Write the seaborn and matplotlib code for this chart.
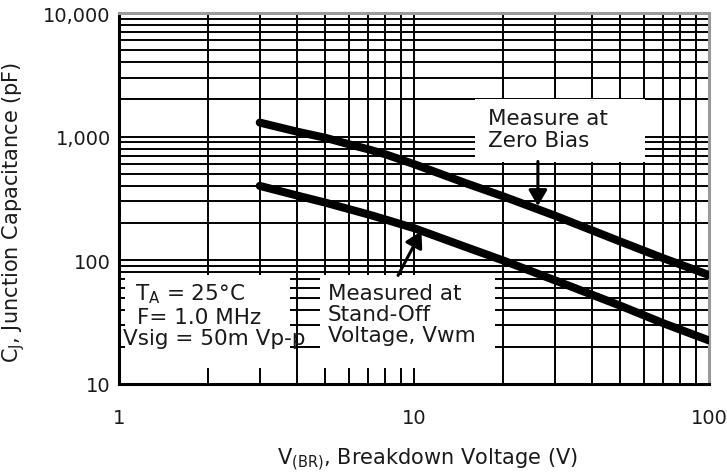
import numpy as np
import pandas as pd
import matplotlib
matplotlib.use('Agg')
import matplotlib.pyplot as plt
import seaborn as sns
from matplotlib.patches import Rectangle

# Data (log-log)
voltage = [3, 4, 5, 6, 7, 8, 10, 15, 20, 30, 50, 70, 100]
cap_zero_bias = [1300, 1100, 980, 870, 790, 720, 600, 420, 330, 230, 142, 104, 76]
cap_standoff = [400, 335, 293, 260, 235, 214, 182, 128, 100, 69, 43, 31, 22.5]

x_ticks = [1, 10, 100]
x_tick_labels = ['1', '10', '100']
y_ticks = [10, 100, 1000, 10000]
y_tick_labels = ['10', '100', '1,000', '10,000']

df = pd.DataFrame({
    'voltage': voltage * 2,
    'cap': cap_zero_bias + cap_standoff,
    'curve': ['zero'] * len(voltage) + ['standoff'] * len(voltage),
})

sns.set_style('white')
plt.rcParams['font.family'] = ['DejaVu Sans']

fig = plt.figure(figsize=(7.27, 4.77), dpi=100)
ax = fig.add_axes([119 / 727, 1 - 385 / 477, 590 / 727, 371 / 477])

sns.lineplot(data=df, x='voltage', y='cap', units='curve', estimator=None,
             color='black', linewidth=5.8, ax=ax, zorder=4, legend=False)

ax.set_xscale('log')
ax.set_yscale('log')
ax.set_xlim(1, 100)
ax.set_ylim(10, 10000)

# full log grid
ax.set_xticks(x_ticks)
ax.set_xticklabels(x_tick_labels)
ax.set_yticks(y_ticks)
ax.set_yticklabels(y_tick_labels)
ax.xaxis.set_minor_locator(matplotlib.ticker.LogLocator(base=10, subs=np.arange(2, 10)))
ax.yaxis.set_minor_locator(matplotlib.ticker.LogLocator(base=10, subs=np.arange(2, 10)))
ax.xaxis.set_minor_formatter(matplotlib.ticker.NullFormatter())
ax.yaxis.set_minor_formatter(matplotlib.ticker.NullFormatter())
ax.set_axisbelow(True)
ax.grid(True, which='both', color='black', linewidth=1.4)
ax.tick_params(which='both', length=0)
ax.tick_params(axis='x', pad=17, labelsize=14, colors='#1a1a1a')
ax.tick_params(axis='y', pad=6, labelsize=14, colors='#1a1a1a')

for side in ['left', 'bottom']:
    ax.spines[side].set_color('black')
    ax.spines[side].set_linewidth(2.2)
for side in ['top', 'right']:
    ax.spines[side].set_color('#9a9a9a')
    ax.spines[side].set_linewidth(2.2)

# white masks behind the annotation texts
for (x0, x1, y0, y1) in [(16.1, 60.7, 629, 2023), (4.8, 18.8, 13.5, 75.7), (1.048, 3.8, 13.5, 75.7)]:
    ax.add_patch(Rectangle((x0, y0), x1 - x0, y1 - y0, facecolor='white',
                           edgecolor='none', zorder=2.5))

txt_kw = dict(fontsize=15.5, color='#1a1a1a', zorder=5)
ax.text(17.8, 1150, 'Measure at\nZero Bias', ha='left', va='center', linespacing=1.1, **txt_kw)
ax.text(5.11, 36.7, 'Measured at\nStand-Off\nVoltage, Vwm', ha='left', va='center', linespacing=1.05, **txt_kw)
ax.text(1.133, 54.2, r'T$_\mathregular{A}$ = 25°C', ha='left', va='center', **txt_kw)
ax.text(1.15, 34.7, 'F= 1.0 MHz', ha='left', va='center', **txt_kw)
ax.text(1.03, 23.5, 'Vsig = 50m Vp-p', ha='left', va='center', **txt_kw)

arrow_kw = dict(arrowstyle='-|>,head_length=0.6,head_width=0.35', color='black',
                lw=2.2, mutation_scale=16, shrinkA=0, shrinkB=0)
ax.annotate('', xy=(26.3, 275), xytext=(26.3, 630), arrowprops=arrow_kw, zorder=5)
ax.annotate('', xy=(10.6, 172), xytext=(8.83, 75.6), arrowprops=arrow_kw, zorder=5)

ax.set_xlabel(r'V$_\mathregular{(BR)}$, Breakdown Voltage (V)', fontsize=15, color='#1a1a1a')
ax.set_ylabel(r'C$_\mathregular{J}$, Junction Capacitance (pF)', fontsize=15, color='#1a1a1a')
ax.xaxis.set_label_coords(0.522, -0.165)
ax.yaxis.set_label_coords(-0.156, 0.466)

fig.savefig('out.png', dpi=100)
